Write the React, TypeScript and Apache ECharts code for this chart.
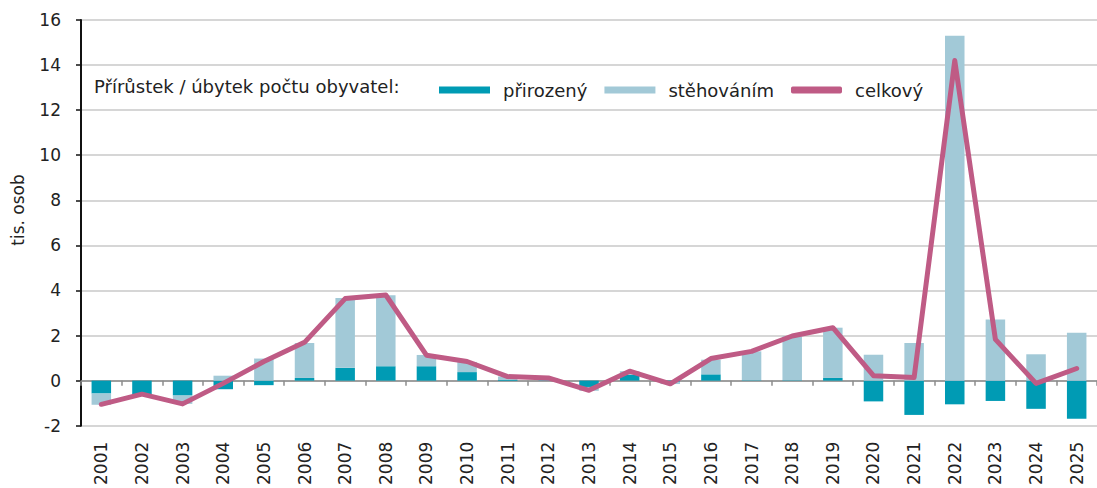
import React, { useEffect, useRef } from "react";
import * as echarts from "echarts";

const years = [
  "2001", "2002", "2003", "2004", "2005", "2006", "2007", "2008", "2009", "2010",
  "2011", "2012", "2013", "2014", "2015", "2016", "2017", "2018", "2019", "2020",
  "2021", "2022", "2023", "2024", "2025",
];
const natural = [
  -0.57, -0.6, -0.66, -0.38, -0.2, 0.12, 0.57, 0.64, 0.64, 0.38,
  0.03, 0.02, -0.28, 0.25, -0.05, 0.28, 0.02, 0.02, 0.12, -0.92,
  -1.52, -1.05, -0.9, -1.25, -1.69,
];
const migration = [
  -0.5, -0.02, -0.37, 0.22, 0.98, 1.55, 3.1, 3.15, 0.5, 0.45,
  0.15, 0.1, -0.17, 0.17, -0.1, 0.65, 1.28, 1.95, 2.23, 1.15,
  1.67, 15.3, 2.71, 1.17, 2.13,
];
const total = [
  -1.05, -0.6, -1.03, -0.12, 0.85, 1.7, 3.64, 3.8, 1.13, 0.85,
  0.18, 0.12, -0.43, 0.42, -0.14, 0.98, 1.3, 1.98, 2.35, 0.22,
  0.14, 14.2, 1.83, -0.12, 0.54,
];
const yTicks = { min: -2, max: 16, interval: 2 };
const legendPrefix = "Přírůstek / úbytek počtu obyvatel:";
const yTitle = "tis. osob";

const FONT = "DejaVu Sans";
const TEXT = "#222";
const DARK = "#009BB4";
const LIGHT = "#A2C9D7";
const PINK = "#BF5B85";

export default function App() {
  const ref = useRef<HTMLDivElement>(null);
  useEffect(() => {
    const chart = echarts.init(ref.current!, null, { renderer: "svg" });
    chart.setOption({
      animation: false,
      textStyle: { fontFamily: FONT },
      grid: { left: 81, top: 20, bottom: 59, right: -7, containLabel: false },
      legend: {
        left: 434,
        top: 76,
        itemWidth: 51,
        itemHeight: 7,
        itemGap: 17,
        selectedMode: false,
        textStyle: { fontSize: 18, color: TEXT, fontFamily: FONT, padding: [0, 0, 0, 8] },
        data: [
          { name: "přirozený", icon: "rect" },
          { name: "stěhováním", icon: "rect" },
          { name: "celkový", icon: "roundRect" },
        ],
      },
      graphic: [
        {
          type: "text",
          left: 94,
          top: 77,
          style: { text: legendPrefix, fontSize: 18, fill: TEXT, fontFamily: FONT },
        },
        {
          type: "text",
          x: 18,
          y: 210,
          rotation: Math.PI / 2,
          style: {
            text: yTitle,
            fontSize: 17,
            fill: TEXT,
            fontFamily: FONT,
            align: "center",
            verticalAlign: "middle",
          },
        },
      ],
      xAxis: [
        {
          type: "category",
          data: years,
          position: "bottom",
          axisLine: { show: false, onZero: false },
          axisTick: { show: false },
          axisLabel: { rotate: 90, fontSize: 17, margin: 16, color: TEXT, fontFamily: FONT },
        },
        {
          type: "category",
          data: years,
          position: "bottom",
          axisLine: { show: true, onZero: true, lineStyle: { color: "#8c8c8c", width: 1.5 } },
          axisTick: { show: true, length: 5, lineStyle: { color: "#8c8c8c", width: 1.5 } },
          axisLabel: { show: false },
        },
      ],
      yAxis: {
        type: "value",
        min: yTicks.min,
        max: yTicks.max,
        interval: yTicks.interval,
        axisLine: { show: true, lineStyle: { color: "#111", width: 2 } },
        axisTick: { show: true, length: 5, lineStyle: { color: "#111", width: 1.5 } },
        axisLabel: { fontSize: 17, color: TEXT, margin: 20, fontFamily: FONT },
        splitLine: { lineStyle: { color: "#c8c8c8", width: 1.5 } },
      },
      series: [
        {
          name: "přirozený",
          type: "bar",
          stack: "a",
          barWidth: "48%",
          data: natural,
          itemStyle: { color: DARK },
        },
        {
          name: "stěhováním",
          type: "bar",
          stack: "a",
          barWidth: "48%",
          data: migration,
          itemStyle: { color: LIGHT },
        },
        {
          name: "celkový",
          type: "line",
          data: total,
          showSymbol: false,
          symbol: "none",
          z: 5,
          itemStyle: { color: PINK },
          lineStyle: { color: PINK, width: 5, join: "round", cap: "round" },
        },
      ],
    });
    return () => chart.dispose();
  }, []);
  return (
    <div
      ref={ref}
      style={{ position: "fixed", left: 0, top: 0, width: 1097, height: 488, background: "#fff" }}
    />
  );
}
